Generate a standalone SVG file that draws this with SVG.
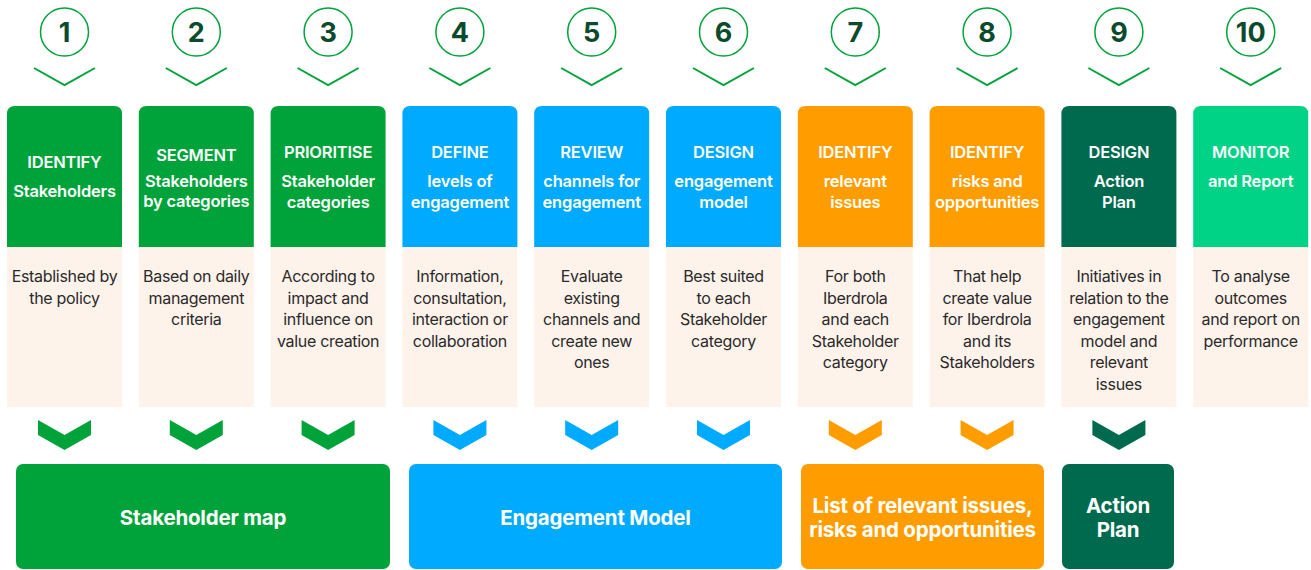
<svg xmlns="http://www.w3.org/2000/svg" width="1311" height="570" viewBox="0 0 1311 570">
<defs>
<style>
.num{font-family:Inter,"Liberation Sans",sans-serif;font-weight:700;font-size:27px;fill:#0B4A2C;text-anchor:middle}
.ring{fill:none;stroke:#00A33A;stroke-width:1.5}
.vee{fill:none;stroke:#00A33A;stroke-width:2}
.hd{font-family:Inter,"Liberation Sans",sans-serif;font-weight:600;font-size:16.5px;fill:#fff;text-anchor:middle;letter-spacing:-0.2px}
.bd{font-family:Inter,"Liberation Sans",sans-serif;font-weight:400;font-size:16px;fill:#2a2a2a;text-anchor:middle;letter-spacing:-0.3px}
.body{fill:#FEF3EB}
.bt{font-family:Inter,"Liberation Sans",sans-serif;font-weight:700;font-size:20.5px;fill:#fff;text-anchor:middle;letter-spacing:-0.2px}
.g{fill:#00A33A}.b{fill:#00AAFF}.o{fill:#FF9D00}.dg{fill:#006A4F}.lg{fill:#00D385}
</style>
<path id="chev" d="M-26.5,0 L0,15 L26.5,0 L26.5,15 L0,30 L-26.5,15 Z"/>
<path id="vee" d="M-30.5,0 L0,17 L30.5,0"/>
</defs>

<g id="connectors">
<use href="#vee" class="vee" x="64.5" y="68"/>
<use href="#vee" class="vee" x="196.3" y="68"/>
<use href="#vee" class="vee" x="328.1" y="68"/>
<use href="#vee" class="vee" x="459.9" y="68"/>
<use href="#vee" class="vee" x="591.7" y="68"/>
<use href="#vee" class="vee" x="723.5" y="68"/>
<use href="#vee" class="vee" x="855.3" y="68"/>
<use href="#vee" class="vee" x="987.1" y="68"/>
<use href="#vee" class="vee" x="1118.9" y="68"/>
<use href="#vee" class="vee" x="1250.7" y="68"/>
<use href="#chev" class="g" x="64.5" y="420"/>
<use href="#chev" class="g" x="196.3" y="420"/>
<use href="#chev" class="g" x="328.1" y="420"/>
<use href="#chev" class="b" x="459.9" y="420"/>
<use href="#chev" class="b" x="591.7" y="420"/>
<use href="#chev" class="b" x="723.5" y="420"/>
<use href="#chev" class="o" x="855.3" y="420"/>
<use href="#chev" class="o" x="987.1" y="420"/>
<use href="#chev" class="dg" x="1118.9" y="420"/>
</g>

<g id="step1">
<circle class="ring" cx="64.5" cy="32" r="24"/><text class="num" x="64.5" y="42">1</text>
<path class="g" d="M7,247 V114 Q7,106 15,106 H114 Q122,106 122,114 V247 Z"/>
<rect class="body" x="7" y="247" width="115" height="160"/>
<text class="hd" x="64.5" y="168">IDENTIFY</text>
<text class="hd" x="64.5" y="197">Stakeholders</text>
<text class="bd" x="64.5" y="282">Established by</text>
<text class="bd" x="64.5" y="304">the policy</text>
</g>
<g id="step2">
<circle class="ring" cx="196.3" cy="32" r="24"/><text class="num" x="196.3" y="42">2</text>
<path class="g" d="M138.8,247 V114 Q138.8,106 146.8,106 H245.8 Q253.8,106 253.8,114 V247 Z"/>
<rect class="body" x="138.8" y="247" width="115" height="160"/>
<text class="hd" x="196.3" y="161">SEGMENT</text>
<text class="hd" x="196.3" y="187">Stakeholders</text>
<text class="hd" x="196.3" y="207">by categories</text>
<text class="bd" x="196.3" y="282">Based on daily</text>
<text class="bd" x="196.3" y="304">management</text>
<text class="bd" x="196.3" y="325">criteria</text>
</g>
<g id="step3">
<circle class="ring" cx="328.1" cy="32" r="24"/><text class="num" x="328.1" y="42">3</text>
<path class="g" d="M270.6,247 V114 Q270.6,106 278.6,106 H377.6 Q385.6,106 385.6,114 V247 Z"/>
<rect class="body" x="270.6" y="247" width="115" height="160"/>
<text class="hd" x="328.1" y="158">PRIORITISE</text>
<text class="hd" x="328.1" y="187">Stakeholder</text>
<text class="hd" x="328.1" y="208">categories</text>
<text class="bd" x="328.1" y="282">According to</text>
<text class="bd" x="328.1" y="304">impact and</text>
<text class="bd" x="328.1" y="325">influence on</text>
<text class="bd" x="328.1" y="347">value creation</text>
</g>
<g id="step4">
<circle class="ring" cx="459.9" cy="32" r="24"/><text class="num" x="459.9" y="42">4</text>
<path class="b" d="M402.4,247 V114 Q402.4,106 410.4,106 H509.4 Q517.4,106 517.4,114 V247 Z"/>
<rect class="body" x="402.4" y="247" width="115" height="160"/>
<text class="hd" x="459.9" y="158">DEFINE</text>
<text class="hd" x="459.9" y="187">levels of</text>
<text class="hd" x="459.9" y="208">engagement</text>
<text class="bd" x="459.9" y="282">Information,</text>
<text class="bd" x="459.9" y="304">consultation,</text>
<text class="bd" x="459.9" y="325">interaction or</text>
<text class="bd" x="459.9" y="347">collaboration</text>
</g>
<g id="step5">
<circle class="ring" cx="591.7" cy="32" r="24"/><text class="num" x="591.7" y="42">5</text>
<path class="b" d="M534.2,247 V114 Q534.2,106 542.2,106 H641.2 Q649.2,106 649.2,114 V247 Z"/>
<rect class="body" x="534.2" y="247" width="115" height="160"/>
<text class="hd" x="591.7" y="158">REVIEW</text>
<text class="hd" x="591.7" y="187">channels for</text>
<text class="hd" x="591.7" y="208">engagement</text>
<text class="bd" x="591.7" y="282">Evaluate</text>
<text class="bd" x="591.7" y="304">existing</text>
<text class="bd" x="591.7" y="325">channels and</text>
<text class="bd" x="591.7" y="347">create new</text>
<text class="bd" x="591.7" y="368">ones</text>
</g>
<g id="step6">
<circle class="ring" cx="723.5" cy="32" r="24"/><text class="num" x="723.5" y="42">6</text>
<path class="b" d="M666,247 V114 Q666,106 674,106 H773 Q781,106 781,114 V247 Z"/>
<rect class="body" x="666" y="247" width="115" height="160"/>
<text class="hd" x="723.5" y="158">DESIGN</text>
<text class="hd" x="723.5" y="187">engagement</text>
<text class="hd" x="723.5" y="208">model</text>
<text class="bd" x="723.5" y="282">Best suited</text>
<text class="bd" x="723.5" y="304">to each</text>
<text class="bd" x="723.5" y="325">Stakeholder</text>
<text class="bd" x="723.5" y="347">category</text>
</g>
<g id="step7">
<circle class="ring" cx="855.3" cy="32" r="24"/><text class="num" x="855.3" y="42">7</text>
<path class="o" d="M797.8,247 V114 Q797.8,106 805.8,106 H904.8 Q912.8,106 912.8,114 V247 Z"/>
<rect class="body" x="797.8" y="247" width="115" height="160"/>
<text class="hd" x="855.3" y="158">IDENTIFY</text>
<text class="hd" x="855.3" y="187">relevant</text>
<text class="hd" x="855.3" y="208">issues</text>
<text class="bd" x="855.3" y="282">For both</text>
<text class="bd" x="855.3" y="304">Iberdrola</text>
<text class="bd" x="855.3" y="325">and each</text>
<text class="bd" x="855.3" y="347">Stakeholder</text>
<text class="bd" x="855.3" y="368">category</text>
</g>
<g id="step8">
<circle class="ring" cx="987.1" cy="32" r="24"/><text class="num" x="987.1" y="42">8</text>
<path class="o" d="M929.6,247 V114 Q929.6,106 937.6,106 H1036.6 Q1044.6,106 1044.6,114 V247 Z"/>
<rect class="body" x="929.6" y="247" width="115" height="160"/>
<text class="hd" x="987.1" y="158">IDENTIFY</text>
<text class="hd" x="987.1" y="187">risks and</text>
<text class="hd" x="987.1" y="208">opportunities</text>
<text class="bd" x="987.1" y="282">That help</text>
<text class="bd" x="987.1" y="304">create value</text>
<text class="bd" x="987.1" y="325">for Iberdrola</text>
<text class="bd" x="987.1" y="347">and its</text>
<text class="bd" x="987.1" y="368">Stakeholders</text>
</g>
<g id="step9">
<circle class="ring" cx="1118.9" cy="32" r="24"/><text class="num" x="1118.9" y="42">9</text>
<path class="dg" d="M1061.4,247 V114 Q1061.4,106 1069.4,106 H1168.4 Q1176.4,106 1176.4,114 V247 Z"/>
<rect class="body" x="1061.4" y="247" width="115" height="160"/>
<text class="hd" x="1118.9" y="158">DESIGN</text>
<text class="hd" x="1118.9" y="187">Action</text>
<text class="hd" x="1118.9" y="208">Plan</text>
<text class="bd" x="1118.9" y="282">Initiatives in</text>
<text class="bd" x="1118.9" y="304">relation to the</text>
<text class="bd" x="1118.9" y="325">engagement</text>
<text class="bd" x="1118.9" y="347">model and</text>
<text class="bd" x="1118.9" y="368">relevant</text>
<text class="bd" x="1118.9" y="390">issues</text>
</g>
<g id="step10">
<circle class="ring" cx="1250.7" cy="32" r="24"/><text class="num" x="1250.7" y="42">10</text>
<path class="lg" d="M1193.2,247 V114 Q1193.2,106 1201.2,106 H1300.2 Q1308.2,106 1308.2,114 V247 Z"/>
<rect class="body" x="1193.2" y="247" width="115" height="160"/>
<text class="hd" x="1250.7" y="158">MONITOR</text>
<text class="hd" x="1250.7" y="187">and Report</text>
<text class="bd" x="1250.7" y="282">To analyse</text>
<text class="bd" x="1250.7" y="304">outcomes</text>
<text class="bd" x="1250.7" y="325">and report on</text>
<text class="bd" x="1250.7" y="347">performance</text>
</g>

<g id="out-stakeholder-map">
<rect class="g" x="16" y="464" width="374" height="105" rx="7"/>
<text class="bt" x="203" y="525">Stakeholder map</text>
</g>
<g id="out-engagement-model">
<rect class="b" x="409" y="464" width="373" height="105" rx="7"/>
<text class="bt" x="595.5" y="525">Engagement Model</text>
</g>
<g id="out-issues">
<rect class="o" x="801" y="464" width="243" height="105" rx="7"/>
<text class="bt" x="922.5" y="513">List of relevant issues,</text>
<text class="bt" x="922.5" y="537">risks and opportunities</text>
</g>
<g id="out-action-plan">
<rect class="dg" x="1062" y="464" width="112" height="105" rx="7"/>
<text class="bt" x="1118" y="513">Action</text>
<text class="bt" x="1118" y="537">Plan</text>
</g>
</svg>
